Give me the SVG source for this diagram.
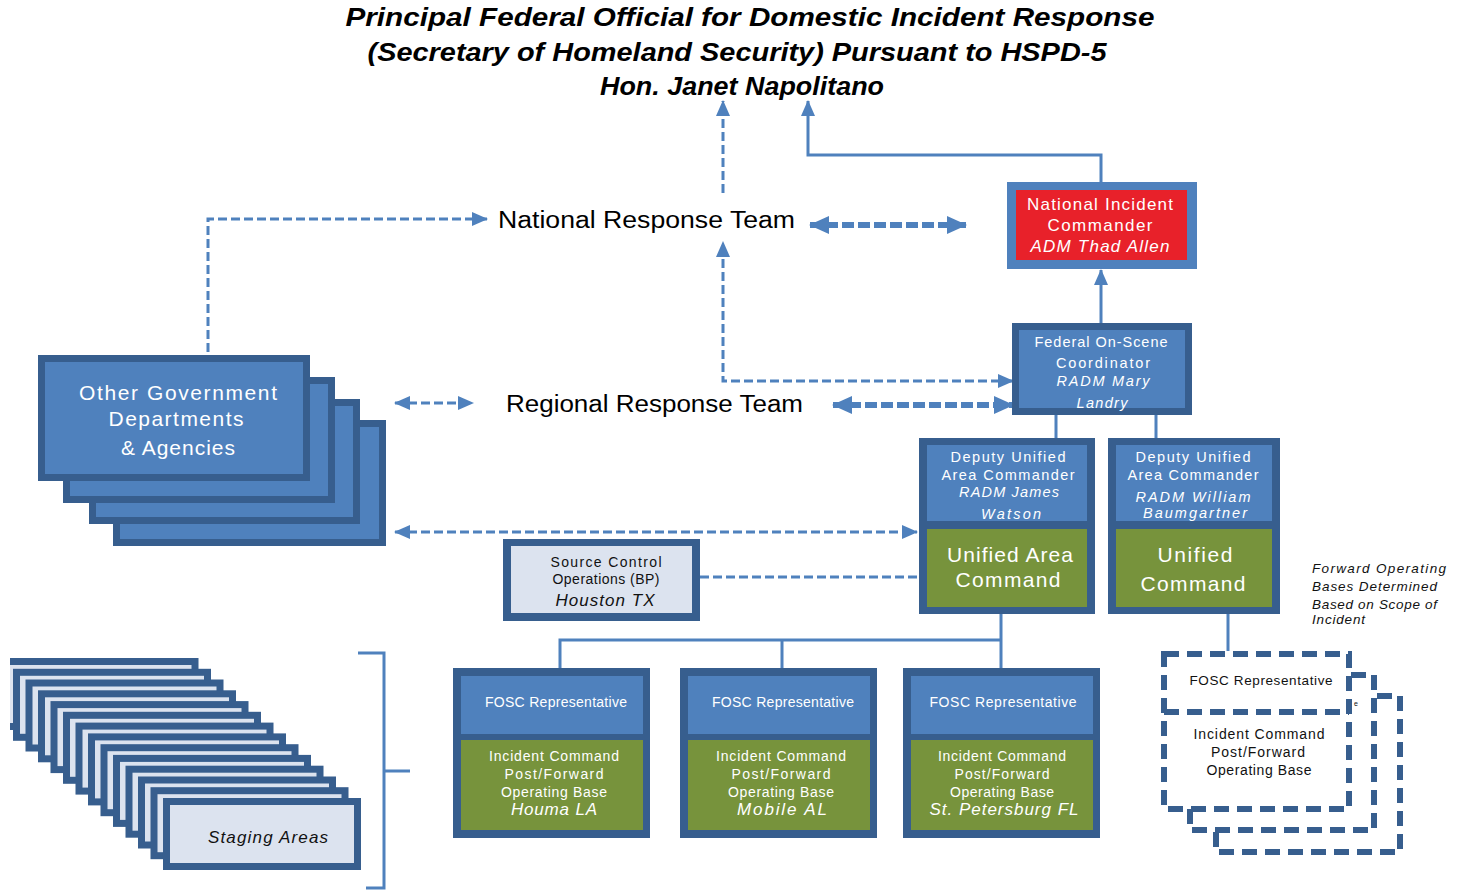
<svg xmlns="http://www.w3.org/2000/svg" width="1462" height="890" viewBox="0 0 1462 890">
<defs>
<style>
.t{font-family:"Liberation Sans",Arial,sans-serif;}
.title{font-family:"Liberation Sans",Arial,sans-serif;font-weight:bold;font-style:italic;font-size:25px;fill:#000;}
.big{font-family:"Liberation Sans",Arial,sans-serif;font-size:23px;fill:#000;}
.w{fill:#fff;}
.k{fill:#111;}
.it{font-style:italic;}
.dk{fill:#375E8E;}
.md{fill:#4F81BD;}
.gr{fill:#77933C;}
.lt{fill:#DCE3EF;}
.solid{fill:none;stroke:#4F81BD;stroke-width:3;}
.dash{fill:none;stroke:#4F81BD;stroke-width:3;stroke-dasharray:9 4;}
.dashT{fill:none;stroke:#4F81BD;stroke-width:6;stroke-dasharray:12 4;}
.dbox{fill:#fff;stroke:#375E8E;stroke-width:6;stroke-dasharray:15 8;}
.stg{fill:#DCE3EF;stroke:#375E8E;stroke-width:7;}
.og{fill:#4F81BD;stroke:#375E8E;stroke-width:7;}
</style>
<marker id="a" markerUnits="userSpaceOnUse" markerWidth="16" markerHeight="16" viewBox="0 0 16 16" refX="15" refY="8" orient="auto-start-reverse"><path d="M0,1 L16,8 L0,15 z" fill="#4F81BD"/></marker>
<marker id="b" markerUnits="userSpaceOnUse" markerWidth="20" markerHeight="20" viewBox="0 0 20 20" refX="19" refY="10" orient="auto-start-reverse"><path d="M0,1 L20,10 L0,19 z" fill="#4F81BD"/></marker>
<clipPath id="clipL"><rect x="10" y="0" width="1452" height="890"/></clipPath>
</defs>
<rect width="1462" height="890" fill="#fff"/>

<g id="title">
<text class="title" x="750" y="26" text-anchor="middle" textLength="809" lengthAdjust="spacingAndGlyphs">Principal Federal Official for Domestic Incident Response</text>
<text class="title" x="737" y="61" text-anchor="middle" textLength="739" lengthAdjust="spacingAndGlyphs">(Secretary of  Homeland Security) Pursuant to HSPD-5</text>
<text class="title" x="742" y="95" text-anchor="middle" textLength="284" lengthAdjust="spacingAndGlyphs">Hon. Janet Napolitano</text>
</g>

<g id="connectors">
<path class="dash" d="M723,193 V101" marker-end="url(#a)"/>
<path class="solid" d="M1101,183 V155 H808 V101" marker-end="url(#a)"/>
<path class="solid" d="M1101,325 V270" marker-end="url(#a)"/>
<path class="dash" d="M208,352 V219 H487" marker-end="url(#a)"/>
<path class="dashT" d="M810,225 H966" marker-start="url(#b)" marker-end="url(#b)"/>
<path class="dash" d="M1013,381 H723 V242" marker-start="url(#a)" marker-end="url(#a)"/>
<path class="dash" d="M395,403 H473" marker-start="url(#a)" marker-end="url(#a)"/>
<path class="dashT" d="M833,405 H1013" marker-start="url(#b)" marker-end="url(#b)"/>
<path class="dash" d="M395,532 H917" marker-start="url(#a)" marker-end="url(#a)"/>
<path class="dash" d="M700,577 H920"/>
<path class="solid" d="M1056,414 V439 M1156,414 V439"/>
<path class="solid" d="M1001,613 V640 H560 V668 M782,640 V668 M1001,640 V668"/>
<path class="solid" d="M1228,614 V651"/>
<path class="solid" d="M358,653 H384 V888 H366 M384,771 H410"/>
</g>

<g id="nic">
<rect x="1007" y="182" width="190" height="87" class="md"/>
<rect x="1016" y="190" width="171" height="70" fill="#E8212A"/>
<text class="t w" font-size="17" x="1100" y="210" text-anchor="middle" textLength="146">National Incident</text>
<text class="t w" font-size="17" x="1100" y="231" text-anchor="middle" textLength="105">Commander</text>
<text class="t w it" font-size="17" x="1100" y="252" text-anchor="middle" textLength="139">ADM Thad Allen</text>
</g>

<g id="fosc">
<rect x="1012" y="323" width="180" height="92" class="dk"/>
<rect x="1019" y="330" width="166" height="78" class="md"/>
<text class="t w" font-size="14.5" x="1101" y="347" text-anchor="middle" textLength="133">Federal On-Scene</text>
<text class="t w" font-size="14.5" x="1103" y="368" text-anchor="middle" textLength="94">Coordinator</text>
<text class="t w it" font-size="14.5" x="1103" y="386" text-anchor="middle" textLength="93">RADM Mary</text>
<text class="t w it" font-size="14.5" x="1102" y="408" text-anchor="middle" textLength="51">Landry</text>
</g>

<g id="deputy1">
<rect x="919" y="438" width="176" height="176" class="dk"/>
<rect x="927" y="445" width="160" height="76" class="md"/>
<rect x="927" y="529" width="160" height="78" class="gr"/>
<text class="t w" font-size="14.5" x="1008" y="462" text-anchor="middle" textLength="115">Deputy Unified</text>
<text class="t w" font-size="14.5" x="1008" y="480" text-anchor="middle" textLength="133">Area Commander</text>
<text class="t w it" font-size="14.5" x="1009" y="497" text-anchor="middle" textLength="100">RADM James</text>
<text class="t w it" font-size="14.5" x="1011" y="519" text-anchor="middle" textLength="60">Watson</text>
<text class="t w" font-size="21" x="1010" y="562" text-anchor="middle" textLength="126">Unified Area</text>
<text class="t w" font-size="21" x="1008" y="587" text-anchor="middle" textLength="105">Command</text>
</g>

<g id="deputy2">
<rect x="1108" y="438" width="172" height="176" class="dk"/>
<rect x="1116" y="445" width="156" height="76" class="md"/>
<rect x="1116" y="529" width="156" height="78" class="gr"/>
<text class="t w" font-size="14.5" x="1193" y="462" text-anchor="middle" textLength="115">Deputy Unified</text>
<text class="t w" font-size="14.5" x="1193" y="480" text-anchor="middle" textLength="131">Area Commander</text>
<text class="t w it" font-size="14.5" x="1193" y="502" text-anchor="middle" textLength="115">RADM William</text>
<text class="t w it" font-size="14.5" x="1195" y="518" text-anchor="middle" textLength="104">Baumgartner</text>
<text class="t w" font-size="21" x="1195" y="562" text-anchor="middle" textLength="75">Unified</text>
<text class="t w" font-size="21" x="1193" y="591" text-anchor="middle" textLength="105">Command</text>
</g>

<g id="nrt">
<text class="big" x="498" y="228" textLength="297" lengthAdjust="spacingAndGlyphs">National Response Team</text>
</g>
<g id="rrt">
<text class="big" x="506" y="412" textLength="297" lengthAdjust="spacingAndGlyphs">Regional Response Team</text>
</g>

<g id="other-gov">
<rect x="116.5" y="423.5" width="266" height="119" class="og"/>
<rect x="92.5" y="402.5" width="264" height="118" class="og"/>
<rect x="66.5" y="380.5" width="265" height="119" class="og"/>
<rect x="41.5" y="358.5" width="265" height="119" class="og"/>
<text class="t w" font-size="21" x="178" y="400" text-anchor="middle" textLength="198">Other Government</text>
<text class="t w" font-size="21" x="176" y="426" text-anchor="middle" textLength="135">Departments</text>
<text class="t w" font-size="21" x="178" y="455" text-anchor="middle" textLength="114">&amp; Agencies</text>
</g>

<g id="source-control">
<rect x="503" y="539" width="197" height="82" class="dk"/>
<rect x="511" y="546" width="181" height="67" class="lt"/>
<text class="t k" font-size="14" x="606" y="567" text-anchor="middle" textLength="111">Source Control</text>
<text class="t k" font-size="14" x="606" y="584" text-anchor="middle" textLength="107">Operations (BP)</text>
<text class="t k it" font-size="17" x="605" y="606" text-anchor="middle" textLength="99">Houston TX</text>
</g>

<g id="fosc-rep-houma">
<rect x="453" y="668" width="197" height="170" class="dk"/>
<rect x="461" y="676" width="182" height="58" class="md"/>
<rect x="461" y="740" width="182" height="90" class="gr"/>
<text class="t w" font-size="14" x="556" y="707" text-anchor="middle" textLength="142">FOSC Representative</text>
<text class="t w" font-size="14" x="554" y="761" text-anchor="middle" textLength="130">Incident Command</text>
<text class="t w" font-size="14" x="554" y="779" text-anchor="middle" textLength="99">Post/Forward</text>
<text class="t w" font-size="14" x="554" y="797" text-anchor="middle" textLength="106">Operating Base</text>
<text class="t w it" font-size="17" x="554" y="815" text-anchor="middle" textLength="86">Houma LA</text>
</g>

<g id="fosc-rep-mobile">
<rect x="680" y="668" width="197" height="170" class="dk"/>
<rect x="688" y="676" width="182" height="58" class="md"/>
<rect x="688" y="740" width="182" height="90" class="gr"/>
<text class="t w" font-size="14" x="783" y="707" text-anchor="middle" textLength="142">FOSC Representative</text>
<text class="t w" font-size="14" x="781" y="761" text-anchor="middle" textLength="130">Incident Command</text>
<text class="t w" font-size="14" x="781" y="779" text-anchor="middle" textLength="99">Post/Forward</text>
<text class="t w" font-size="14" x="781" y="797" text-anchor="middle" textLength="106">Operating Base</text>
<text class="t w it" font-size="17" x="782" y="815" text-anchor="middle" textLength="90">Mobile AL</text>
</g>

<g id="fosc-rep-stpete">
<rect x="903" y="668" width="197" height="170" class="dk"/>
<rect x="911" y="676" width="182" height="58" class="md"/>
<rect x="911" y="740" width="182" height="90" class="gr"/>
<text class="t w" font-size="14" x="1003" y="707" text-anchor="middle" textLength="147">FOSC Representative</text>
<text class="t w" font-size="14" x="1002" y="761" text-anchor="middle" textLength="128">Incident Command</text>
<text class="t w" font-size="14" x="1002" y="779" text-anchor="middle" textLength="95">Post/Forward</text>
<text class="t w" font-size="14" x="1002" y="797" text-anchor="middle" textLength="104">Operating Base</text>
<text class="t w it" font-size="17" x="1004" y="815" text-anchor="middle" textLength="149">St. Petersburg FL</text>
</g>

<g id="forward-bases">
<rect x="1216" y="696" width="184" height="156" class="dbox"/>
<rect x="1190" y="675" width="184" height="155" class="dbox"/>
<rect x="1164" y="654" width="185" height="155" class="dbox"/>
<path d="M1164,712 H1349" fill="none" stroke="#375E8E" stroke-width="6" stroke-dasharray="15 8"/>
<text class="t k" font-size="13.5" x="1261" y="685" text-anchor="middle" textLength="143">FOSC Representative</text>
<text class="t k" font-size="7" x="1354" y="706">e</text>
<text class="t k" font-size="14" x="1259" y="739" text-anchor="middle" textLength="131">Incident Command</text>
<text class="t k" font-size="14" x="1258" y="757" text-anchor="middle" textLength="94">Post/Forward</text>
<text class="t k" font-size="14" x="1259" y="775" text-anchor="middle" textLength="105">Operating Base</text>
</g>

<g id="note">
<text class="t k it" font-size="13.5" x="1312" y="573" textLength="134">Forward Operating</text>
<text class="t k it" font-size="13.5" x="1312" y="591" textLength="125">Bases Determined</text>
<text class="t k it" font-size="13.5" x="1312" y="609" textLength="125">Based on Scope of</text>
<text class="t k it" font-size="13.5" x="1312" y="624" textLength="53">Incident</text>
</g>

<g id="staging-areas" clip-path="url(#clipL)">
<rect class="stg" x="4" y="661.5" width="191" height="65"/>
<rect class="stg" x="16.5" y="672.3" width="191" height="65"/>
<rect class="stg" x="29" y="683" width="191" height="65"/>
<rect class="stg" x="41.5" y="693.8" width="191" height="65"/>
<rect class="stg" x="54" y="704.6" width="191" height="65"/>
<rect class="stg" x="66.5" y="715.3" width="191" height="65"/>
<rect class="stg" x="79" y="726.1" width="191" height="65"/>
<rect class="stg" x="91.5" y="736.9" width="191" height="65"/>
<rect class="stg" x="104" y="747.7" width="191" height="65"/>
<rect class="stg" x="116.5" y="758.4" width="191" height="65"/>
<rect class="stg" x="129" y="769.2" width="191" height="65"/>
<rect class="stg" x="141.5" y="780" width="191" height="65"/>
<rect class="stg" x="154" y="790.7" width="191" height="65"/>
<rect class="stg" x="166.5" y="801.5" width="191" height="65"/>
<text class="t k it" font-size="17" x="268" y="843" text-anchor="middle" textLength="120">Staging Areas</text>
</g>
</svg>
